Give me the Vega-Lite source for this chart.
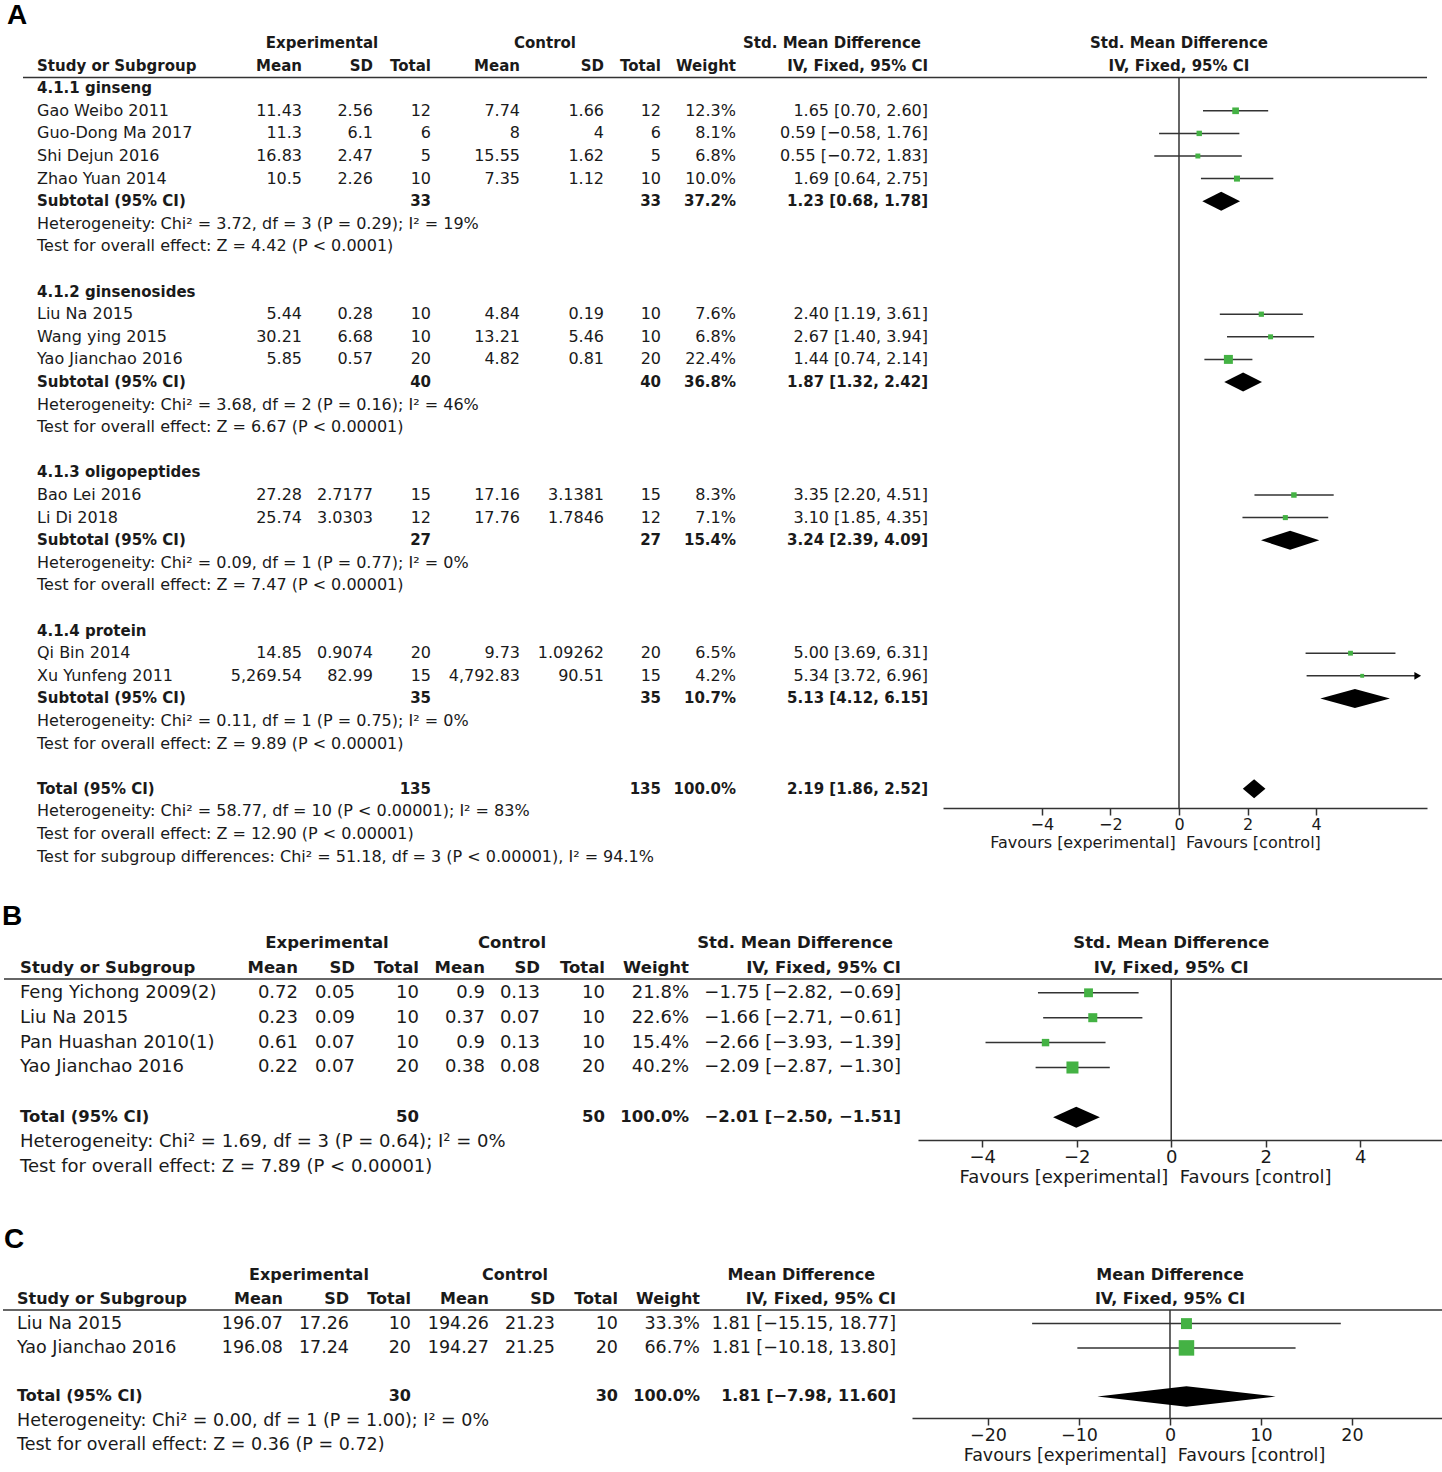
{
"$schema": "https://vega.github.io/schema/vega-lite/v6.json",
"padding": 0,
"autosize": {"type": "pad"},
"background": "white",
"spacing": 0,
"config": {"view": {"stroke": null}, "text": {"font": "DejaVu Sans", "color": "#1a1a1a", "baseline": "middle"}, "axisX": {"grid": false}},
"datasets": {
"A": [
{"r":0,"t":"h0","exp":"Experimental","ctl":"Control","ci":"Std. Mean Difference","pl":"Std. Mean Difference"},
{"r":1,"t":"h1","s":"Study or Subgroup","m1":"Mean","sd1":"SD","n1":"Total","m2":"Mean","sd2":"SD","n2":"Total","w":"Weight","ci":"IV, Fixed, 95% CI","pl":"IV, Fixed, 95% CI"},
{"r":2,"t":"g","s":"4.1.1 ginseng"},
{"r":3,"t":"s","s":"Gao Weibo 2011","m1":"11.43","sd1":"2.56","n1":"12","m2":"7.74","sd2":"1.66","n2":"12","w":"12.3%","ci":"1.65 [0.70, 2.60]","est":1.65,"lo":0.70,"hi":2.60,"wt":12.3},
{"r":4,"t":"s","s":"Guo-Dong Ma 2017","m1":"11.3","sd1":"6.1","n1":"6","m2":"8","sd2":"4","n2":"6","w":"8.1%","ci":"0.59 [−0.58, 1.76]","est":0.59,"lo":-0.58,"hi":1.76,"wt":8.1},
{"r":5,"t":"s","s":"Shi Dejun 2016","m1":"16.83","sd1":"2.47","n1":"5","m2":"15.55","sd2":"1.62","n2":"5","w":"6.8%","ci":"0.55 [−0.72, 1.83]","est":0.55,"lo":-0.72,"hi":1.83,"wt":6.8},
{"r":6,"t":"s","s":"Zhao Yuan 2014","m1":"10.5","sd1":"2.26","n1":"10","m2":"7.35","sd2":"1.12","n2":"10","w":"10.0%","ci":"1.69 [0.64, 2.75]","est":1.69,"lo":0.64,"hi":2.75,"wt":10.0},
{"r":7,"t":"sub","s":"Subtotal (95% CI)","n1":"33","n2":"33","w":"37.2%","ci":"1.23 [0.68, 1.78]","est":1.23,"lo":0.68,"hi":1.78},
{"r":8,"t":"n","s":"Heterogeneity: Chi² = 3.72, df = 3 (P = 0.29); I² = 19%"},
{"r":9,"t":"n","s":"Test for overall effect: Z = 4.42 (P < 0.0001)"},
{"r":11,"t":"g","s":"4.1.2 ginsenosides"},
{"r":12,"t":"s","s":"Liu Na 2015","m1":"5.44","sd1":"0.28","n1":"10","m2":"4.84","sd2":"0.19","n2":"10","w":"7.6%","ci":"2.40 [1.19, 3.61]","est":2.40,"lo":1.19,"hi":3.61,"wt":7.6},
{"r":13,"t":"s","s":"Wang ying 2015","m1":"30.21","sd1":"6.68","n1":"10","m2":"13.21","sd2":"5.46","n2":"10","w":"6.8%","ci":"2.67 [1.40, 3.94]","est":2.67,"lo":1.40,"hi":3.94,"wt":6.8},
{"r":14,"t":"s","s":"Yao Jianchao 2016","m1":"5.85","sd1":"0.57","n1":"20","m2":"4.82","sd2":"0.81","n2":"20","w":"22.4%","ci":"1.44 [0.74, 2.14]","est":1.44,"lo":0.74,"hi":2.14,"wt":22.4},
{"r":15,"t":"sub","s":"Subtotal (95% CI)","n1":"40","n2":"40","w":"36.8%","ci":"1.87 [1.32, 2.42]","est":1.87,"lo":1.32,"hi":2.42},
{"r":16,"t":"n","s":"Heterogeneity: Chi² = 3.68, df = 2 (P = 0.16); I² = 46%"},
{"r":17,"t":"n","s":"Test for overall effect: Z = 6.67 (P < 0.00001)"},
{"r":19,"t":"g","s":"4.1.3 oligopeptides"},
{"r":20,"t":"s","s":"Bao Lei 2016","m1":"27.28","sd1":"2.7177","n1":"15","m2":"17.16","sd2":"3.1381","n2":"15","w":"8.3%","ci":"3.35 [2.20, 4.51]","est":3.35,"lo":2.20,"hi":4.51,"wt":8.3},
{"r":21,"t":"s","s":"Li Di 2018","m1":"25.74","sd1":"3.0303","n1":"12","m2":"17.76","sd2":"1.7846","n2":"12","w":"7.1%","ci":"3.10 [1.85, 4.35]","est":3.10,"lo":1.85,"hi":4.35,"wt":7.1},
{"r":22,"t":"sub","s":"Subtotal (95% CI)","n1":"27","n2":"27","w":"15.4%","ci":"3.24 [2.39, 4.09]","est":3.24,"lo":2.39,"hi":4.09},
{"r":23,"t":"n","s":"Heterogeneity: Chi² = 0.09, df = 1 (P = 0.77); I² = 0%"},
{"r":24,"t":"n","s":"Test for overall effect: Z = 7.47 (P < 0.00001)"},
{"r":26,"t":"g","s":"4.1.4 protein"},
{"r":27,"t":"s","s":"Qi Bin 2014","m1":"14.85","sd1":"0.9074","n1":"20","m2":"9.73","sd2":"1.09262","n2":"20","w":"6.5%","ci":"5.00 [3.69, 6.31]","est":5.00,"lo":3.69,"hi":6.31,"wt":6.5},
{"r":28,"t":"s","s":"Xu Yunfeng 2011","m1":"5,269.54","sd1":"82.99","n1":"15","m2":"4,792.83","sd2":"90.51","n2":"15","w":"4.2%","ci":"5.34 [3.72, 6.96]","est":5.34,"lo":3.72,"hi":6.96,"wt":4.2},
{"r":29,"t":"sub","s":"Subtotal (95% CI)","n1":"35","n2":"35","w":"10.7%","ci":"5.13 [4.12, 6.15]","est":5.13,"lo":4.12,"hi":6.15},
{"r":30,"t":"n","s":"Heterogeneity: Chi² = 0.11, df = 1 (P = 0.75); I² = 0%"},
{"r":31,"t":"n","s":"Test for overall effect: Z = 9.89 (P < 0.00001)"},
{"r":33,"t":"tot","s":"Total (95% CI)","n1":"135","n2":"135","w":"100.0%","ci":"2.19 [1.86, 2.52]","est":2.19,"lo":1.86,"hi":2.52},
{"r":34,"t":"n","s":"Heterogeneity: Chi² = 58.77, df = 10 (P < 0.00001); I² = 83%"},
{"r":35,"t":"n","s":"Test for overall effect: Z = 12.90 (P < 0.00001)"},
{"r":36,"t":"n","s":"Test for subgroup differences: Chi² = 51.18, df = 3 (P < 0.00001), I² = 94.1%"}
],
"B": [
{"r":0,"t":"h0","exp":"Experimental","ctl":"Control","ci":"Std. Mean Difference","pl":"Std. Mean Difference"},
{"r":1,"t":"h1","s":"Study or Subgroup","m1":"Mean","sd1":"SD","n1":"Total","m2":"Mean","sd2":"SD","n2":"Total","w":"Weight","ci":"IV, Fixed, 95% CI","pl":"IV, Fixed, 95% CI"},
{"r":2,"t":"s","s":"Feng Yichong 2009(2)","m1":"0.72","sd1":"0.05","n1":"10","m2":"0.9","sd2":"0.13","n2":"10","w":"21.8%","ci":"−1.75 [−2.82, −0.69]","est":-1.75,"lo":-2.82,"hi":-0.69,"wt":21.8},
{"r":3,"t":"s","s":"Liu Na 2015","m1":"0.23","sd1":"0.09","n1":"10","m2":"0.37","sd2":"0.07","n2":"10","w":"22.6%","ci":"−1.66 [−2.71, −0.61]","est":-1.66,"lo":-2.71,"hi":-0.61,"wt":22.6},
{"r":4,"t":"s","s":"Pan Huashan 2010(1)","m1":"0.61","sd1":"0.07","n1":"10","m2":"0.9","sd2":"0.13","n2":"10","w":"15.4%","ci":"−2.66 [−3.93, −1.39]","est":-2.66,"lo":-3.93,"hi":-1.39,"wt":15.4},
{"r":5,"t":"s","s":"Yao Jianchao 2016","m1":"0.22","sd1":"0.07","n1":"20","m2":"0.38","sd2":"0.08","n2":"20","w":"40.2%","ci":"−2.09 [−2.87, −1.30]","est":-2.09,"lo":-2.87,"hi":-1.30,"wt":40.2},
{"r":7,"t":"tot","s":"Total (95% CI)","n1":"50","n2":"50","w":"100.0%","ci":"−2.01 [−2.50, −1.51]","est":-2.01,"lo":-2.50,"hi":-1.51},
{"r":8,"t":"n","s":"Heterogeneity: Chi² = 1.69, df = 3 (P = 0.64); I² = 0%"},
{"r":9,"t":"n","s":"Test for overall effect: Z = 7.89 (P < 0.00001)"}
],
"C": [
{"r":0,"t":"h0","exp":"Experimental","ctl":"Control","ci":"Mean Difference","pl":"Mean Difference"},
{"r":1,"t":"h1","s":"Study or Subgroup","m1":"Mean","sd1":"SD","n1":"Total","m2":"Mean","sd2":"SD","n2":"Total","w":"Weight","ci":"IV, Fixed, 95% CI","pl":"IV, Fixed, 95% CI"},
{"r":2,"t":"s","s":"Liu Na 2015","m1":"196.07","sd1":"17.26","n1":"10","m2":"194.26","sd2":"21.23","n2":"10","w":"33.3%","ci":"1.81 [−15.15, 18.77]","est":1.81,"lo":-15.15,"hi":18.77,"wt":33.3},
{"r":3,"t":"s","s":"Yao Jianchao 2016","m1":"196.08","sd1":"17.24","n1":"20","m2":"194.27","sd2":"21.25","n2":"20","w":"66.7%","ci":"1.81 [−10.18, 13.80]","est":1.81,"lo":-10.18,"hi":13.80,"wt":66.7},
{"r":5,"t":"tot","s":"Total (95% CI)","n1":"30","n2":"30","w":"100.0%","ci":"1.81 [−7.98, 11.60]","est":1.81,"lo":-7.98,"hi":11.60},
{"r":6,"t":"n","s":"Heterogeneity: Chi² = 0.00, df = 1 (P = 1.00); I² = 0%"},
{"r":7,"t":"n","s":"Test for overall effect: Z = 0.36 (P = 0.72)"}
]
},
"vconcat": [
{"data":{"name":"A"},"spacing":0,"bounds":"flush","hconcat":[
{"width":23,"height":890,"data":{"values":[{"L":"A"}]},"mark":{"type":"text","align":"left","dx":7,"fontSize":28,"fontWeight":"bold","font":"Liberation Sans","color":"#000"},"encoding":{"x":{"value":0},"y":{"datum":-1.2,"scale":{"domain":[-1.9027,37.4778],"reverse":true,"nice":false,"zero":false},"axis":null},"text":{"field":"L","type":"nominal"}}},
{"width":177,"height":890,"encoding":{"y":{"field":"r","type":"quantitative","scale":{"domain":[-1.9027,37.4778],"reverse":true,"nice":false,"zero":false},"axis":null}},"layer":[
 {"transform":[{"filter":"datum.t=='s' || datum.t=='n'"}],"mark":{"type":"text","align":"left","dx":14,"fontSize":16},"encoding":{"x":{"value":0},"text":{"field":"s","type":"nominal"}}},
 {"transform":[{"filter":"datum.t=='h1' || datum.t=='g' || datum.t=='sub' || datum.t=='tot'"}],"mark":{"type":"text","align":"left","dx":14,"fontSize":15,"fontWeight":"bold"},"encoding":{"x":{"value":0},"text":{"field":"s","type":"nominal"}}},
 {"transform":[{"filter":"datum.t=='h1'"}],"mark":{"type":"rule","color":"#333","strokeWidth":1.5},"encoding":{"y":{"datum":1.53,"axis":null}}}]},
{"width":102,"height":890,"encoding":{"y":{"field":"r","type":"quantitative","scale":{"domain":[-1.9027,37.4778],"reverse":true,"nice":false,"zero":false},"axis":null}},"layer":[
 {"transform":[{"filter":"isValid(datum.m1) && (datum.t=='s' || datum.t=='n')"}],"mark":{"type":"text","align":"right","fontSize":16},"encoding":{"x":{"value":"width"},"text":{"field":"m1","type":"nominal"}}},
 {"transform":[{"filter":"isValid(datum.m1) && (datum.t=='h1' || datum.t=='sub' || datum.t=='tot')"}],"mark":{"type":"text","align":"right","fontSize":15,"fontWeight":"bold"},"encoding":{"x":{"value":"width"},"text":{"field":"m1","type":"nominal"}}},
 {"transform":[{"filter":"datum.t=='h1'"}],"mark":{"type":"rule","color":"#333","strokeWidth":1.5},"encoding":{"y":{"datum":1.53,"axis":null}}}]},
{"width":71,"height":890,"encoding":{"y":{"field":"r","type":"quantitative","scale":{"domain":[-1.9027,37.4778],"reverse":true,"nice":false,"zero":false},"axis":null}},"layer":[
 {"transform":[{"filter":"isValid(datum.sd1) && (datum.t=='s' || datum.t=='n')"}],"mark":{"type":"text","align":"right","fontSize":16},"encoding":{"x":{"value":"width"},"text":{"field":"sd1","type":"nominal"}}},
 {"transform":[{"filter":"isValid(datum.sd1) && (datum.t=='h1' || datum.t=='sub' || datum.t=='tot')"}],"mark":{"type":"text","align":"right","fontSize":15,"fontWeight":"bold"},"encoding":{"x":{"value":"width"},"text":{"field":"sd1","type":"nominal"}}},
 {"transform":[{"filter":"datum.t=='h1'"}],"mark":{"type":"rule","color":"#333","strokeWidth":1.5},"encoding":{"y":{"datum":1.53,"axis":null}}}]},
{"width":58,"height":890,"encoding":{"y":{"field":"r","type":"quantitative","scale":{"domain":[-1.9027,37.4778],"reverse":true,"nice":false,"zero":false},"axis":null}},"layer":[
 {"transform":[{"filter":"isValid(datum.n1) && (datum.t=='s' || datum.t=='n')"}],"mark":{"type":"text","align":"right","fontSize":16},"encoding":{"x":{"value":"width"},"text":{"field":"n1","type":"nominal"}}},
 {"transform":[{"filter":"isValid(datum.n1) && (datum.t=='h1' || datum.t=='sub' || datum.t=='tot')"}],"mark":{"type":"text","align":"right","fontSize":15,"fontWeight":"bold"},"encoding":{"x":{"value":"width"},"text":{"field":"n1","type":"nominal"}}},
 {"transform":[{"filter":"datum.t=='h0'"}],"mark":{"type":"text","align":"center","dx":-109,"fontSize":15,"fontWeight":"bold"},"encoding":{"x":{"value":"width"},"text":{"field":"exp","type":"nominal"}}},
 {"transform":[{"filter":"datum.t=='h1'"}],"mark":{"type":"rule","color":"#333","strokeWidth":1.5},"encoding":{"y":{"datum":1.53,"axis":null}}}]},
{"width":89,"height":890,"encoding":{"y":{"field":"r","type":"quantitative","scale":{"domain":[-1.9027,37.4778],"reverse":true,"nice":false,"zero":false},"axis":null}},"layer":[
 {"transform":[{"filter":"isValid(datum.m2) && (datum.t=='s' || datum.t=='n')"}],"mark":{"type":"text","align":"right","fontSize":16},"encoding":{"x":{"value":"width"},"text":{"field":"m2","type":"nominal"}}},
 {"transform":[{"filter":"isValid(datum.m2) && (datum.t=='h1' || datum.t=='sub' || datum.t=='tot')"}],"mark":{"type":"text","align":"right","fontSize":15,"fontWeight":"bold"},"encoding":{"x":{"value":"width"},"text":{"field":"m2","type":"nominal"}}},
 {"transform":[{"filter":"datum.t=='h1'"}],"mark":{"type":"rule","color":"#333","strokeWidth":1.5},"encoding":{"y":{"datum":1.53,"axis":null}}}]},
{"width":84,"height":890,"encoding":{"y":{"field":"r","type":"quantitative","scale":{"domain":[-1.9027,37.4778],"reverse":true,"nice":false,"zero":false},"axis":null}},"layer":[
 {"transform":[{"filter":"isValid(datum.sd2) && (datum.t=='s' || datum.t=='n')"}],"mark":{"type":"text","align":"right","fontSize":16},"encoding":{"x":{"value":"width"},"text":{"field":"sd2","type":"nominal"}}},
 {"transform":[{"filter":"isValid(datum.sd2) && (datum.t=='h1' || datum.t=='sub' || datum.t=='tot')"}],"mark":{"type":"text","align":"right","fontSize":15,"fontWeight":"bold"},"encoding":{"x":{"value":"width"},"text":{"field":"sd2","type":"nominal"}}},
 {"transform":[{"filter":"datum.t=='h1'"}],"mark":{"type":"rule","color":"#333","strokeWidth":1.5},"encoding":{"y":{"datum":1.53,"axis":null}}}]},
{"width":57,"height":890,"encoding":{"y":{"field":"r","type":"quantitative","scale":{"domain":[-1.9027,37.4778],"reverse":true,"nice":false,"zero":false},"axis":null}},"layer":[
 {"transform":[{"filter":"isValid(datum.n2) && (datum.t=='s' || datum.t=='n')"}],"mark":{"type":"text","align":"right","fontSize":16},"encoding":{"x":{"value":"width"},"text":{"field":"n2","type":"nominal"}}},
 {"transform":[{"filter":"isValid(datum.n2) && (datum.t=='h1' || datum.t=='sub' || datum.t=='tot')"}],"mark":{"type":"text","align":"right","fontSize":15,"fontWeight":"bold"},"encoding":{"x":{"value":"width"},"text":{"field":"n2","type":"nominal"}}},
 {"transform":[{"filter":"datum.t=='h0'"}],"mark":{"type":"text","align":"center","dx":-116,"fontSize":15,"fontWeight":"bold"},"encoding":{"x":{"value":"width"},"text":{"field":"ctl","type":"nominal"}}},
 {"transform":[{"filter":"datum.t=='h1'"}],"mark":{"type":"rule","color":"#333","strokeWidth":1.5},"encoding":{"y":{"datum":1.53,"axis":null}}}]},
{"width":75,"height":890,"encoding":{"y":{"field":"r","type":"quantitative","scale":{"domain":[-1.9027,37.4778],"reverse":true,"nice":false,"zero":false},"axis":null}},"layer":[
 {"transform":[{"filter":"isValid(datum.w) && (datum.t=='s' || datum.t=='n')"}],"mark":{"type":"text","align":"right","fontSize":16},"encoding":{"x":{"value":"width"},"text":{"field":"w","type":"nominal"}}},
 {"transform":[{"filter":"isValid(datum.w) && (datum.t=='h1' || datum.t=='sub' || datum.t=='tot')"}],"mark":{"type":"text","align":"right","fontSize":15,"fontWeight":"bold"},"encoding":{"x":{"value":"width"},"text":{"field":"w","type":"nominal"}}},
 {"transform":[{"filter":"datum.t=='h1'"}],"mark":{"type":"rule","color":"#333","strokeWidth":1.5},"encoding":{"y":{"datum":1.53,"axis":null}}}]},
{"width":207,"height":890,"encoding":{"y":{"field":"r","type":"quantitative","scale":{"domain":[-1.9027,37.4778],"reverse":true,"nice":false,"zero":false},"axis":null}},"layer":[
 {"transform":[{"filter":"isValid(datum.ci) && (datum.t=='s' || datum.t=='n')"}],"mark":{"type":"text","align":"right","dx":-15,"fontSize":16},"encoding":{"x":{"value":"width"},"text":{"field":"ci","type":"nominal"}}},
 {"transform":[{"filter":"isValid(datum.ci) && (datum.t=='h1' || datum.t=='sub' || datum.t=='tot')"}],"mark":{"type":"text","align":"right","dx":-15,"fontSize":15,"fontWeight":"bold"},"encoding":{"x":{"value":"width"},"text":{"field":"ci","type":"nominal"}}},
 {"transform":[{"filter":"datum.t=='h0'"}],"mark":{"type":"text","align":"right","dx":-22,"fontSize":15,"fontWeight":"bold"},"encoding":{"x":{"value":"width"},"text":{"field":"ci","type":"nominal"}}},
 {"transform":[{"filter":"datum.t=='h1'"}],"mark":{"type":"rule","color":"#333","strokeWidth":1.5},"encoding":{"y":{"datum":1.53,"axis":null}}}]},
{"width":484,"height":890,"resolve":{"axis":{"x":"independent"}},"encoding":{"y":{"field":"r","type":"quantitative","scale":{"domain":[-1.9027,37.4778],"reverse":true,"nice":false,"zero":false},"axis":null}},"layer":[
 {"transform":[{"filter":"datum.t=='s'"}],"mark":{"type":"rule","color":"#333","strokeWidth":1.5},"encoding":{"x":{"field":"lo","type":"quantitative","scale":{"domain":[-6.88,7.23],"nice":false,"zero":false},"axis":{"orient":"bottom","offset":-82,"values":[-4,-2,0,2,4],"title":"Favours [experimental]\u00a0\u00a0Favours [control]","titleX":212,"titleY":34,"titleAlign":"center","titleBaseline":"middle","titleFont":"DejaVu Sans","titleFontWeight":"normal","titleFontSize":16,"titleColor":"#1a1a1a","grid":false,"domain":true,"ticks":true,"labels":true,"domainColor":"#333","domainWidth":1.5,"tickColor":"#333","tickWidth":1.5,"tickSize":7,"labelFontSize":16,"labelFont":"DejaVu Sans","labelColor":"#1a1a1a","labelPadding":1,"labelFlush":false,"labelOverlap":false,"format":"d"}},"x2":{"field":"hi"}}},
 {"transform":[{"filter":"datum.t=='h1'"}],"mark":{"type":"rule","color":"#333","strokeWidth":1.5},"encoding":{"y":{"datum":1.53,"axis":null}}},
 {"transform":[{"filter":"datum.t=='h1'"}],"mark":{"type":"rule","color":"#333","strokeWidth":1.5},"encoding":{"x":{"datum":0,"type":"quantitative","scale":{"domain":[-6.88,7.23],"nice":false,"zero":false},"axis":null},"y":{"datum":1.53,"axis":null},"y2":{"datum":33.85}}},
 {"transform":[{"filter":"datum.t=='s'"}],"mark":{"type":"point","shape":"square","filled":true,"color":"#44b244","opacity":1},"encoding":{"x":{"field":"est","type":"quantitative","scale":{"domain":[-6.88,7.23],"nice":false,"zero":false},"axis":null},"size":{"field":"wt","type":"quantitative","scale":{"domain":[0,100],"range":[0,360]},"legend":null}}},
 {"transform":[{"filter":"datum.t=='s' && datum.hi > 6.88"}],"mark":{"type":"point","shape":"triangle-right","filled":true,"color":"#000","size":60,"opacity":1},"encoding":{"x":{"field":"hi","type":"quantitative","scale":{"domain":[-6.88,7.23],"nice":false,"zero":false},"axis":null}}},
 {"transform":[{"filter":"datum.t=='sub' || datum.t=='tot'"},{"fold":["lo","est","hi"],"as":["k","xv"]},{"calculate":"datum.k=='est' ? 0.42 : 0","as":"hh"},{"calculate":"datum.r - datum.hh","as":"ya"},{"calculate":"datum.r + datum.hh","as":"yb"}],"mark":{"type":"area","color":"#000","opacity":1,"orient":"vertical"},"encoding":{"x":{"field":"xv","type":"quantitative","scale":{"domain":[-6.88,7.23],"nice":false,"zero":false},"axis":null},"y":{"field":"ya","type":"quantitative","axis":null,"stack":null},"y2":{"field":"yb"},"detail":{"field":"r","type":"nominal"}}},
 {"transform":[{"filter":"isValid(datum.pl)"}],"mark":{"type":"text","align":"center","fontSize":15,"fontWeight":"bold"},"encoding":{"x":{"datum":0,"type":"quantitative","scale":{"domain":[-6.88,7.23],"nice":false,"zero":false},"axis":null},"text":{"field":"pl","type":"nominal"}}}]}
]},
{"data":{"name":"B"},"spacing":0,"bounds":"flush","hconcat":[
{"width":4,"height":310,"data":{"values":[{"L":"B"}]},"mark":{"type":"text","align":"left","dx":2,"fontSize":28,"fontWeight":"bold","font":"Liberation Sans","color":"#000"},"encoding":{"x":{"value":0},"y":{"datum":-1.04,"scale":{"domain":[-2.1285,10.3213],"reverse":true,"nice":false,"zero":false},"axis":null},"text":{"field":"L","type":"nominal"}}},
{"width":196,"height":310,"encoding":{"y":{"field":"r","type":"quantitative","scale":{"domain":[-2.1285,10.3213],"reverse":true,"nice":false,"zero":false},"axis":null}},"layer":[
 {"transform":[{"filter":"datum.t=='s' || datum.t=='n'"}],"mark":{"type":"text","align":"left","dx":16,"fontSize":18},"encoding":{"x":{"value":0},"text":{"field":"s","type":"nominal"}}},
 {"transform":[{"filter":"datum.t=='h1' || datum.t=='g' || datum.t=='sub' || datum.t=='tot'"}],"mark":{"type":"text","align":"left","dx":16,"fontSize":16.5,"fontWeight":"bold"},"encoding":{"x":{"value":0},"text":{"field":"s","type":"nominal"}}},
 {"transform":[{"filter":"datum.t=='h1'"}],"mark":{"type":"rule","color":"#333","strokeWidth":1.5},"encoding":{"y":{"datum":1.45,"axis":null}}}]},
{"width":98,"height":310,"encoding":{"y":{"field":"r","type":"quantitative","scale":{"domain":[-2.1285,10.3213],"reverse":true,"nice":false,"zero":false},"axis":null}},"layer":[
 {"transform":[{"filter":"isValid(datum.m1) && (datum.t=='s' || datum.t=='n')"}],"mark":{"type":"text","align":"right","fontSize":18},"encoding":{"x":{"value":"width"},"text":{"field":"m1","type":"nominal"}}},
 {"transform":[{"filter":"isValid(datum.m1) && (datum.t=='h1' || datum.t=='sub' || datum.t=='tot')"}],"mark":{"type":"text","align":"right","fontSize":16.5,"fontWeight":"bold"},"encoding":{"x":{"value":"width"},"text":{"field":"m1","type":"nominal"}}},
 {"transform":[{"filter":"datum.t=='h1'"}],"mark":{"type":"rule","color":"#333","strokeWidth":1.5},"encoding":{"y":{"datum":1.45,"axis":null}}}]},
{"width":57,"height":310,"encoding":{"y":{"field":"r","type":"quantitative","scale":{"domain":[-2.1285,10.3213],"reverse":true,"nice":false,"zero":false},"axis":null}},"layer":[
 {"transform":[{"filter":"isValid(datum.sd1) && (datum.t=='s' || datum.t=='n')"}],"mark":{"type":"text","align":"right","fontSize":18},"encoding":{"x":{"value":"width"},"text":{"field":"sd1","type":"nominal"}}},
 {"transform":[{"filter":"isValid(datum.sd1) && (datum.t=='h1' || datum.t=='sub' || datum.t=='tot')"}],"mark":{"type":"text","align":"right","fontSize":16.5,"fontWeight":"bold"},"encoding":{"x":{"value":"width"},"text":{"field":"sd1","type":"nominal"}}},
 {"transform":[{"filter":"datum.t=='h1'"}],"mark":{"type":"rule","color":"#333","strokeWidth":1.5},"encoding":{"y":{"datum":1.45,"axis":null}}}]},
{"width":64,"height":310,"encoding":{"y":{"field":"r","type":"quantitative","scale":{"domain":[-2.1285,10.3213],"reverse":true,"nice":false,"zero":false},"axis":null}},"layer":[
 {"transform":[{"filter":"isValid(datum.n1) && (datum.t=='s' || datum.t=='n')"}],"mark":{"type":"text","align":"right","fontSize":18},"encoding":{"x":{"value":"width"},"text":{"field":"n1","type":"nominal"}}},
 {"transform":[{"filter":"isValid(datum.n1) && (datum.t=='h1' || datum.t=='sub' || datum.t=='tot')"}],"mark":{"type":"text","align":"right","fontSize":16.5,"fontWeight":"bold"},"encoding":{"x":{"value":"width"},"text":{"field":"n1","type":"nominal"}}},
 {"transform":[{"filter":"datum.t=='h0'"}],"mark":{"type":"text","align":"center","dx":-92,"fontSize":16.5,"fontWeight":"bold"},"encoding":{"x":{"value":"width"},"text":{"field":"exp","type":"nominal"}}},
 {"transform":[{"filter":"datum.t=='h1'"}],"mark":{"type":"rule","color":"#333","strokeWidth":1.5},"encoding":{"y":{"datum":1.45,"axis":null}}}]},
{"width":66,"height":310,"encoding":{"y":{"field":"r","type":"quantitative","scale":{"domain":[-2.1285,10.3213],"reverse":true,"nice":false,"zero":false},"axis":null}},"layer":[
 {"transform":[{"filter":"isValid(datum.m2) && (datum.t=='s' || datum.t=='n')"}],"mark":{"type":"text","align":"right","fontSize":18},"encoding":{"x":{"value":"width"},"text":{"field":"m2","type":"nominal"}}},
 {"transform":[{"filter":"isValid(datum.m2) && (datum.t=='h1' || datum.t=='sub' || datum.t=='tot')"}],"mark":{"type":"text","align":"right","fontSize":16.5,"fontWeight":"bold"},"encoding":{"x":{"value":"width"},"text":{"field":"m2","type":"nominal"}}},
 {"transform":[{"filter":"datum.t=='h1'"}],"mark":{"type":"rule","color":"#333","strokeWidth":1.5},"encoding":{"y":{"datum":1.45,"axis":null}}}]},
{"width":55,"height":310,"encoding":{"y":{"field":"r","type":"quantitative","scale":{"domain":[-2.1285,10.3213],"reverse":true,"nice":false,"zero":false},"axis":null}},"layer":[
 {"transform":[{"filter":"isValid(datum.sd2) && (datum.t=='s' || datum.t=='n')"}],"mark":{"type":"text","align":"right","fontSize":18},"encoding":{"x":{"value":"width"},"text":{"field":"sd2","type":"nominal"}}},
 {"transform":[{"filter":"isValid(datum.sd2) && (datum.t=='h1' || datum.t=='sub' || datum.t=='tot')"}],"mark":{"type":"text","align":"right","fontSize":16.5,"fontWeight":"bold"},"encoding":{"x":{"value":"width"},"text":{"field":"sd2","type":"nominal"}}},
 {"transform":[{"filter":"datum.t=='h1'"}],"mark":{"type":"rule","color":"#333","strokeWidth":1.5},"encoding":{"y":{"datum":1.45,"axis":null}}}]},
{"width":65,"height":310,"encoding":{"y":{"field":"r","type":"quantitative","scale":{"domain":[-2.1285,10.3213],"reverse":true,"nice":false,"zero":false},"axis":null}},"layer":[
 {"transform":[{"filter":"isValid(datum.n2) && (datum.t=='s' || datum.t=='n')"}],"mark":{"type":"text","align":"right","fontSize":18},"encoding":{"x":{"value":"width"},"text":{"field":"n2","type":"nominal"}}},
 {"transform":[{"filter":"isValid(datum.n2) && (datum.t=='h1' || datum.t=='sub' || datum.t=='tot')"}],"mark":{"type":"text","align":"right","fontSize":16.5,"fontWeight":"bold"},"encoding":{"x":{"value":"width"},"text":{"field":"n2","type":"nominal"}}},
 {"transform":[{"filter":"datum.t=='h0'"}],"mark":{"type":"text","align":"center","dx":-93,"fontSize":16.5,"fontWeight":"bold"},"encoding":{"x":{"value":"width"},"text":{"field":"ctl","type":"nominal"}}},
 {"transform":[{"filter":"datum.t=='h1'"}],"mark":{"type":"rule","color":"#333","strokeWidth":1.5},"encoding":{"y":{"datum":1.45,"axis":null}}}]},
{"width":84,"height":310,"encoding":{"y":{"field":"r","type":"quantitative","scale":{"domain":[-2.1285,10.3213],"reverse":true,"nice":false,"zero":false},"axis":null}},"layer":[
 {"transform":[{"filter":"isValid(datum.w) && (datum.t=='s' || datum.t=='n')"}],"mark":{"type":"text","align":"right","fontSize":18},"encoding":{"x":{"value":"width"},"text":{"field":"w","type":"nominal"}}},
 {"transform":[{"filter":"isValid(datum.w) && (datum.t=='h1' || datum.t=='sub' || datum.t=='tot')"}],"mark":{"type":"text","align":"right","fontSize":16.5,"fontWeight":"bold"},"encoding":{"x":{"value":"width"},"text":{"field":"w","type":"nominal"}}},
 {"transform":[{"filter":"datum.t=='h1'"}],"mark":{"type":"rule","color":"#333","strokeWidth":1.5},"encoding":{"y":{"datum":1.45,"axis":null}}}]},
{"width":229,"height":310,"encoding":{"y":{"field":"r","type":"quantitative","scale":{"domain":[-2.1285,10.3213],"reverse":true,"nice":false,"zero":false},"axis":null}},"layer":[
 {"transform":[{"filter":"isValid(datum.ci) && (datum.t=='s' || datum.t=='n')"}],"mark":{"type":"text","align":"right","dx":-17,"fontSize":18},"encoding":{"x":{"value":"width"},"text":{"field":"ci","type":"nominal"}}},
 {"transform":[{"filter":"isValid(datum.ci) && (datum.t=='h1' || datum.t=='sub' || datum.t=='tot')"}],"mark":{"type":"text","align":"right","dx":-17,"fontSize":16.5,"fontWeight":"bold"},"encoding":{"x":{"value":"width"},"text":{"field":"ci","type":"nominal"}}},
 {"transform":[{"filter":"datum.t=='h0'"}],"mark":{"type":"text","align":"right","dx":-25,"fontSize":16.5,"fontWeight":"bold"},"encoding":{"x":{"value":"width"},"text":{"field":"ci","type":"nominal"}}},
 {"transform":[{"filter":"datum.t=='h1'"}],"mark":{"type":"rule","color":"#333","strokeWidth":1.5},"encoding":{"y":{"datum":1.45,"axis":null}}}]},
{"width":524,"height":310,"resolve":{"axis":{"x":"independent"}},"encoding":{"y":{"field":"r","type":"quantitative","scale":{"domain":[-2.1285,10.3213],"reverse":true,"nice":false,"zero":false},"axis":null}},"layer":[
 {"transform":[{"filter":"datum.t=='s'"}],"mark":{"type":"rule","color":"#333","strokeWidth":1.5},"encoding":{"x":{"field":"lo","type":"quantitative","scale":{"domain":[-5.359,5.731],"nice":false,"zero":false},"axis":{"orient":"bottom","offset":-60,"values":[-4,-2,0,2,4],"title":"Favours [experimental]\u00a0\u00a0Favours [control]","titleX":227,"titleY":37,"titleAlign":"center","titleBaseline":"middle","titleFont":"DejaVu Sans","titleFontWeight":"normal","titleFontSize":18,"titleColor":"#1a1a1a","grid":false,"domain":true,"ticks":true,"labels":true,"domainColor":"#333","domainWidth":1.5,"tickColor":"#333","tickWidth":1.5,"tickSize":7,"labelFontSize":18,"labelFont":"DejaVu Sans","labelColor":"#1a1a1a","labelPadding":1,"labelFlush":false,"labelOverlap":false,"format":"d"}},"x2":{"field":"hi"}}},
 {"transform":[{"filter":"datum.t=='h1'"}],"mark":{"type":"rule","color":"#333","strokeWidth":1.5},"encoding":{"y":{"datum":1.45,"axis":null}}},
 {"transform":[{"filter":"datum.t=='h1'"}],"mark":{"type":"rule","color":"#333","strokeWidth":1.5},"encoding":{"x":{"datum":0,"type":"quantitative","scale":{"domain":[-5.359,5.731],"nice":false,"zero":false},"axis":null},"y":{"datum":1.45,"axis":null},"y2":{"datum":7.91}}},
 {"transform":[{"filter":"datum.t=='s'"}],"mark":{"type":"point","shape":"square","filled":true,"color":"#44b244","opacity":1},"encoding":{"x":{"field":"est","type":"quantitative","scale":{"domain":[-5.359,5.731],"nice":false,"zero":false},"axis":null},"size":{"field":"wt","type":"quantitative","scale":{"domain":[0,100],"range":[0,380]},"legend":null}}},
 {"transform":[{"filter":"datum.t=='sub' || datum.t=='tot'"},{"fold":["lo","est","hi"],"as":["k","xv"]},{"calculate":"datum.k=='est' ? 0.42 : 0","as":"hh"},{"calculate":"datum.r - datum.hh","as":"ya"},{"calculate":"datum.r + datum.hh","as":"yb"}],"mark":{"type":"area","color":"#000","opacity":1,"orient":"vertical"},"encoding":{"x":{"field":"xv","type":"quantitative","scale":{"domain":[-5.359,5.731],"nice":false,"zero":false},"axis":null},"y":{"field":"ya","type":"quantitative","axis":null,"stack":null},"y2":{"field":"yb"},"detail":{"field":"r","type":"nominal"}}},
 {"transform":[{"filter":"isValid(datum.pl)"}],"mark":{"type":"text","align":"center","fontSize":16.5,"fontWeight":"bold"},"encoding":{"x":{"datum":0,"type":"quantitative","scale":{"domain":[-5.359,5.731],"nice":false,"zero":false},"axis":null},"text":{"field":"pl","type":"nominal"}}}]}
]},
{"data":{"name":"C"},"spacing":0,"bounds":"flush","hconcat":[
{"width":3,"height":272,"data":{"values":[{"L":"C"}]},"mark":{"type":"text","align":"left","dx":4,"fontSize":28,"fontWeight":"bold","font":"Liberation Sans","color":"#000"},"encoding":{"x":{"value":0},"y":{"datum":-1.44,"scale":{"domain":[-3.0864,8.107],"reverse":true,"nice":false,"zero":false},"axis":null},"text":{"field":"L","type":"nominal"}}},
{"width":197,"height":272,"encoding":{"y":{"field":"r","type":"quantitative","scale":{"domain":[-3.0864,8.107],"reverse":true,"nice":false,"zero":false},"axis":null}},"layer":[
 {"transform":[{"filter":"datum.t=='s' || datum.t=='n'"}],"mark":{"type":"text","align":"left","dx":14,"fontSize":17.5},"encoding":{"x":{"value":0},"text":{"field":"s","type":"nominal"}}},
 {"transform":[{"filter":"datum.t=='h1' || datum.t=='g' || datum.t=='sub' || datum.t=='tot'"}],"mark":{"type":"text","align":"left","dx":14,"fontSize":16,"fontWeight":"bold"},"encoding":{"x":{"value":0},"text":{"field":"s","type":"nominal"}}},
 {"transform":[{"filter":"datum.t=='h1'"}],"mark":{"type":"rule","color":"#333","strokeWidth":1.5},"encoding":{"y":{"datum":1.44,"axis":null}}}]},
{"width":83,"height":272,"encoding":{"y":{"field":"r","type":"quantitative","scale":{"domain":[-3.0864,8.107],"reverse":true,"nice":false,"zero":false},"axis":null}},"layer":[
 {"transform":[{"filter":"isValid(datum.m1) && (datum.t=='s' || datum.t=='n')"}],"mark":{"type":"text","align":"right","fontSize":17.5},"encoding":{"x":{"value":"width"},"text":{"field":"m1","type":"nominal"}}},
 {"transform":[{"filter":"isValid(datum.m1) && (datum.t=='h1' || datum.t=='sub' || datum.t=='tot')"}],"mark":{"type":"text","align":"right","fontSize":16,"fontWeight":"bold"},"encoding":{"x":{"value":"width"},"text":{"field":"m1","type":"nominal"}}},
 {"transform":[{"filter":"datum.t=='h1'"}],"mark":{"type":"rule","color":"#333","strokeWidth":1.5},"encoding":{"y":{"datum":1.44,"axis":null}}}]},
{"width":66,"height":272,"encoding":{"y":{"field":"r","type":"quantitative","scale":{"domain":[-3.0864,8.107],"reverse":true,"nice":false,"zero":false},"axis":null}},"layer":[
 {"transform":[{"filter":"isValid(datum.sd1) && (datum.t=='s' || datum.t=='n')"}],"mark":{"type":"text","align":"right","fontSize":17.5},"encoding":{"x":{"value":"width"},"text":{"field":"sd1","type":"nominal"}}},
 {"transform":[{"filter":"isValid(datum.sd1) && (datum.t=='h1' || datum.t=='sub' || datum.t=='tot')"}],"mark":{"type":"text","align":"right","fontSize":16,"fontWeight":"bold"},"encoding":{"x":{"value":"width"},"text":{"field":"sd1","type":"nominal"}}},
 {"transform":[{"filter":"datum.t=='h1'"}],"mark":{"type":"rule","color":"#333","strokeWidth":1.5},"encoding":{"y":{"datum":1.44,"axis":null}}}]},
{"width":62,"height":272,"encoding":{"y":{"field":"r","type":"quantitative","scale":{"domain":[-3.0864,8.107],"reverse":true,"nice":false,"zero":false},"axis":null}},"layer":[
 {"transform":[{"filter":"isValid(datum.n1) && (datum.t=='s' || datum.t=='n')"}],"mark":{"type":"text","align":"right","fontSize":17.5},"encoding":{"x":{"value":"width"},"text":{"field":"n1","type":"nominal"}}},
 {"transform":[{"filter":"isValid(datum.n1) && (datum.t=='h1' || datum.t=='sub' || datum.t=='tot')"}],"mark":{"type":"text","align":"right","fontSize":16,"fontWeight":"bold"},"encoding":{"x":{"value":"width"},"text":{"field":"n1","type":"nominal"}}},
 {"transform":[{"filter":"datum.t=='h0'"}],"mark":{"type":"text","align":"center","dx":-102,"fontSize":16,"fontWeight":"bold"},"encoding":{"x":{"value":"width"},"text":{"field":"exp","type":"nominal"}}},
 {"transform":[{"filter":"datum.t=='h1'"}],"mark":{"type":"rule","color":"#333","strokeWidth":1.5},"encoding":{"y":{"datum":1.44,"axis":null}}}]},
{"width":78,"height":272,"encoding":{"y":{"field":"r","type":"quantitative","scale":{"domain":[-3.0864,8.107],"reverse":true,"nice":false,"zero":false},"axis":null}},"layer":[
 {"transform":[{"filter":"isValid(datum.m2) && (datum.t=='s' || datum.t=='n')"}],"mark":{"type":"text","align":"right","fontSize":17.5},"encoding":{"x":{"value":"width"},"text":{"field":"m2","type":"nominal"}}},
 {"transform":[{"filter":"isValid(datum.m2) && (datum.t=='h1' || datum.t=='sub' || datum.t=='tot')"}],"mark":{"type":"text","align":"right","fontSize":16,"fontWeight":"bold"},"encoding":{"x":{"value":"width"},"text":{"field":"m2","type":"nominal"}}},
 {"transform":[{"filter":"datum.t=='h1'"}],"mark":{"type":"rule","color":"#333","strokeWidth":1.5},"encoding":{"y":{"datum":1.44,"axis":null}}}]},
{"width":66,"height":272,"encoding":{"y":{"field":"r","type":"quantitative","scale":{"domain":[-3.0864,8.107],"reverse":true,"nice":false,"zero":false},"axis":null}},"layer":[
 {"transform":[{"filter":"isValid(datum.sd2) && (datum.t=='s' || datum.t=='n')"}],"mark":{"type":"text","align":"right","fontSize":17.5},"encoding":{"x":{"value":"width"},"text":{"field":"sd2","type":"nominal"}}},
 {"transform":[{"filter":"isValid(datum.sd2) && (datum.t=='h1' || datum.t=='sub' || datum.t=='tot')"}],"mark":{"type":"text","align":"right","fontSize":16,"fontWeight":"bold"},"encoding":{"x":{"value":"width"},"text":{"field":"sd2","type":"nominal"}}},
 {"transform":[{"filter":"datum.t=='h1'"}],"mark":{"type":"rule","color":"#333","strokeWidth":1.5},"encoding":{"y":{"datum":1.44,"axis":null}}}]},
{"width":63,"height":272,"encoding":{"y":{"field":"r","type":"quantitative","scale":{"domain":[-3.0864,8.107],"reverse":true,"nice":false,"zero":false},"axis":null}},"layer":[
 {"transform":[{"filter":"isValid(datum.n2) && (datum.t=='s' || datum.t=='n')"}],"mark":{"type":"text","align":"right","fontSize":17.5},"encoding":{"x":{"value":"width"},"text":{"field":"n2","type":"nominal"}}},
 {"transform":[{"filter":"isValid(datum.n2) && (datum.t=='h1' || datum.t=='sub' || datum.t=='tot')"}],"mark":{"type":"text","align":"right","fontSize":16,"fontWeight":"bold"},"encoding":{"x":{"value":"width"},"text":{"field":"n2","type":"nominal"}}},
 {"transform":[{"filter":"datum.t=='h0'"}],"mark":{"type":"text","align":"center","dx":-103,"fontSize":16,"fontWeight":"bold"},"encoding":{"x":{"value":"width"},"text":{"field":"ctl","type":"nominal"}}},
 {"transform":[{"filter":"datum.t=='h1'"}],"mark":{"type":"rule","color":"#333","strokeWidth":1.5},"encoding":{"y":{"datum":1.44,"axis":null}}}]},
{"width":82,"height":272,"encoding":{"y":{"field":"r","type":"quantitative","scale":{"domain":[-3.0864,8.107],"reverse":true,"nice":false,"zero":false},"axis":null}},"layer":[
 {"transform":[{"filter":"isValid(datum.w) && (datum.t=='s' || datum.t=='n')"}],"mark":{"type":"text","align":"right","fontSize":17.5},"encoding":{"x":{"value":"width"},"text":{"field":"w","type":"nominal"}}},
 {"transform":[{"filter":"isValid(datum.w) && (datum.t=='h1' || datum.t=='sub' || datum.t=='tot')"}],"mark":{"type":"text","align":"right","fontSize":16,"fontWeight":"bold"},"encoding":{"x":{"value":"width"},"text":{"field":"w","type":"nominal"}}},
 {"transform":[{"filter":"datum.t=='h1'"}],"mark":{"type":"rule","color":"#333","strokeWidth":1.5},"encoding":{"y":{"datum":1.44,"axis":null}}}]},
{"width":212,"height":272,"encoding":{"y":{"field":"r","type":"quantitative","scale":{"domain":[-3.0864,8.107],"reverse":true,"nice":false,"zero":false},"axis":null}},"layer":[
 {"transform":[{"filter":"isValid(datum.ci) && (datum.t=='s' || datum.t=='n')"}],"mark":{"type":"text","align":"right","dx":-16,"fontSize":17.5},"encoding":{"x":{"value":"width"},"text":{"field":"ci","type":"nominal"}}},
 {"transform":[{"filter":"isValid(datum.ci) && (datum.t=='h1' || datum.t=='sub' || datum.t=='tot')"}],"mark":{"type":"text","align":"right","dx":-16,"fontSize":16,"fontWeight":"bold"},"encoding":{"x":{"value":"width"},"text":{"field":"ci","type":"nominal"}}},
 {"transform":[{"filter":"datum.t=='h0'"}],"mark":{"type":"text","align":"right","dx":-37,"fontSize":16,"fontWeight":"bold"},"encoding":{"x":{"value":"width"},"text":{"field":"ci","type":"nominal"}}},
 {"transform":[{"filter":"datum.t=='h1'"}],"mark":{"type":"rule","color":"#333","strokeWidth":1.5},"encoding":{"y":{"datum":1.44,"axis":null}}}]},
{"width":530,"height":272,"resolve":{"axis":{"x":"independent"}},"encoding":{"y":{"field":"r","type":"quantitative","scale":{"domain":[-3.0864,8.107],"reverse":true,"nice":false,"zero":false},"axis":null}},"layer":[
 {"transform":[{"filter":"datum.t=='s'"}],"mark":{"type":"rule","color":"#333","strokeWidth":1.5},"encoding":{"x":{"field":"lo","type":"quantitative","scale":{"domain":[-28.35,29.89],"nice":false,"zero":false},"axis":{"orient":"bottom","offset":-54,"values":[-20,-10,0,10,20],"title":"Favours [experimental]\u00a0\u00a0Favours [control]","titleX":232,"titleY":37,"titleAlign":"center","titleBaseline":"middle","titleFont":"DejaVu Sans","titleFontWeight":"normal","titleFontSize":17.5,"titleColor":"#1a1a1a","grid":false,"domain":true,"ticks":true,"labels":true,"domainColor":"#333","domainWidth":1.5,"tickColor":"#333","tickWidth":1.5,"tickSize":7,"labelFontSize":17.5,"labelFont":"DejaVu Sans","labelColor":"#1a1a1a","labelPadding":1,"labelFlush":false,"labelOverlap":false,"format":"d"}},"x2":{"field":"hi"}}},
 {"transform":[{"filter":"datum.t=='h1'"}],"mark":{"type":"rule","color":"#333","strokeWidth":1.5},"encoding":{"y":{"datum":1.44,"axis":null}}},
 {"transform":[{"filter":"datum.t=='h1'"}],"mark":{"type":"rule","color":"#333","strokeWidth":1.5},"encoding":{"x":{"datum":0,"type":"quantitative","scale":{"domain":[-28.35,29.89],"nice":false,"zero":false},"axis":null},"y":{"datum":1.44,"axis":null},"y2":{"datum":5.885}}},
 {"transform":[{"filter":"datum.t=='s'"}],"mark":{"type":"point","shape":"square","filled":true,"color":"#44b244","opacity":1},"encoding":{"x":{"field":"est","type":"quantitative","scale":{"domain":[-28.35,29.89],"nice":false,"zero":false},"axis":null},"size":{"field":"wt","type":"quantitative","scale":{"domain":[0,100],"range":[0,460]},"legend":null}}},
 {"transform":[{"filter":"datum.t=='sub' || datum.t=='tot'"},{"fold":["lo","est","hi"],"as":["k","xv"]},{"calculate":"datum.k=='est' ? 0.42 : 0","as":"hh"},{"calculate":"datum.r - datum.hh","as":"ya"},{"calculate":"datum.r + datum.hh","as":"yb"}],"mark":{"type":"area","color":"#000","opacity":1,"orient":"vertical"},"encoding":{"x":{"field":"xv","type":"quantitative","scale":{"domain":[-28.35,29.89],"nice":false,"zero":false},"axis":null},"y":{"field":"ya","type":"quantitative","axis":null,"stack":null},"y2":{"field":"yb"},"detail":{"field":"r","type":"nominal"}}},
 {"transform":[{"filter":"isValid(datum.pl)"}],"mark":{"type":"text","align":"center","fontSize":16,"fontWeight":"bold"},"encoding":{"x":{"datum":0,"type":"quantitative","scale":{"domain":[-28.35,29.89],"nice":false,"zero":false},"axis":null},"text":{"field":"pl","type":"nominal"}}}]}
]}
]
}
